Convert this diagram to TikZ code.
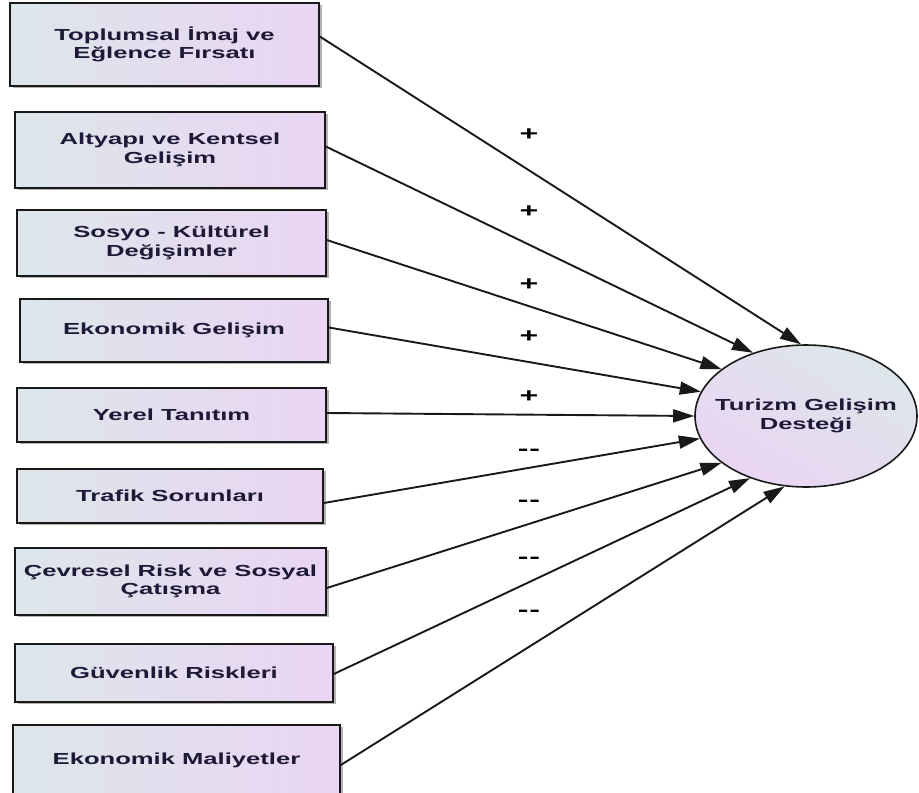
\documentclass[tikz,border=0pt]{standalone}
\usepackage{fontspec}
\setmainfont{Liberation Sans}[FakeStretch=1.6]
\usetikzlibrary{arrows.meta,shadows,shapes.geometric}
\definecolor{txt}{RGB}{30,25,55}
\definecolor{lft}{RGB}{221,230,234}
\definecolor{rgt}{RGB}{234,213,243}
\begin{document}
\begin{tikzpicture}[x=1pt,y=-1pt,
  box/.style={draw=black!90, line width=1.6pt, left color=lft, right color=rgt,
    inner sep=0pt, align=center, text=txt,
    font=\bfseries\fontsize{16}{18.5}\selectfont,
    drop shadow={shadow xshift=2.5pt, shadow yshift=-2pt, fill=black!50, opacity=0.6}},
  ell/.style={ellipse, draw=black!90, line width=1.6pt, shading=axis,
    top color=lft, bottom color=rgt, shading angle=-30,
    inner xsep=-20pt, inner ysep=0pt, align=center, text=txt,
    font=\bfseries\fontsize{16}{18.5}\selectfont},
  conn/.style={line width=1.9pt, draw=black!90, -{Triangle[length=21pt,width=13pt]}},
  sign/.style={inner sep=0pt, text=black, font=\bfseries\fontsize{20}{20}\selectfont}]
\useasboundingbox (0,0) rectangle (919,793);
\node[box, minimum width=309pt, minimum height=83pt] (b1) at (164.5,44.5) {Toplumsal İmaj ve\\Eğlence Fırsatı};
\node[box, minimum width=310pt, minimum height=76pt] (b2) at (170,150) {Altyapı ve Kentsel\\Gelişim};
\node[box, minimum width=309pt, minimum height=66pt] (b3) at (171.5,243) {Sosyo - Kültürel\\Değişimler};
\node[box, minimum width=308pt, minimum height=63pt] (b4) at (174,330.5) {Ekonomik Gelişim};
\node[box, minimum width=309pt, minimum height=54pt] (b5) at (171.5,415) {Yerel Tanıtım};
\node[box, minimum width=306pt, minimum height=54pt] (b6) at (170,496) {Trafik Sorunları};
\node[box, minimum width=311pt, minimum height=67pt] (b7) at (170.5,581.5) {Çevresel Risk ve Sosyal\\Çatışma};
\node[box, minimum width=318pt, minimum height=58pt] (b8) at (174,673) {Güvenlik Riskleri};
\node[box, minimum width=327pt, minimum height=70pt] (b9) at (176.5,760) {Ekonomik Maliyetler};
\node[ell, minimum width=222pt, minimum height=142pt] (c) at (806,416) {Turizm Gelişim\\Desteği};
\draw[conn] ([yshift=8pt]b1.east) -- (c.94.8);
\draw[conn] ([yshift=3.5pt]b2.east) -- (c.130.1);
\draw[conn] ([yshift=3pt]b3.east) -- (c.151.9);
\draw[conn] ([yshift=3pt]b4.east) -- (c.167.2);
\draw[conn] ([yshift=2pt]b5.east) -- (c.180);
\draw[conn] ([yshift=-7pt]b6.east) -- (c.192.5);
\draw[conn] ([yshift=-6.5pt]b7.east) -- (c.209.1);
\draw[conn] ([yshift=-1pt]b8.east) -- (c.228.8);
\draw[conn] ([yshift=-5pt]b9.east) -- (c.253);
\node[sign] (s1) at (529,135) {+};
\node[sign] (s2) at (529,212) {+};
\node[sign] (s3) at (529,285) {+};
\node[sign] (s4) at (529,337) {+};
\node[sign] (s5) at (529,397) {+};
\node[sign] (s6) at (529,452) {-\kern1pt-};
\node[sign] (s7) at (529,503) {-\kern1pt-};
\node[sign] (s8) at (529,560) {-\kern1pt-};
\node[sign] (s9) at (529,613) {-\kern1pt-};
\end{tikzpicture}
\end{document}
